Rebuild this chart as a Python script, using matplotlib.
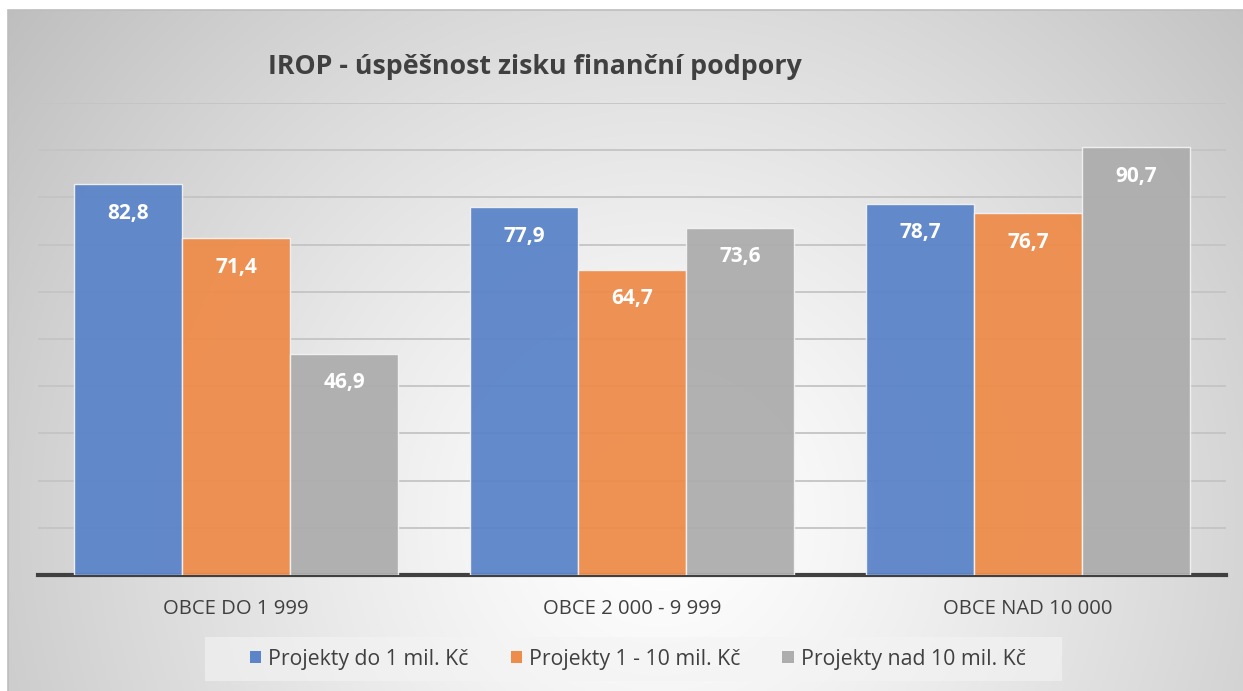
import numpy as np
import matplotlib
matplotlib.use("Agg")
import matplotlib.pyplot as plt
from matplotlib.patches import Patch, Rectangle

categories = ["OBCE DO 1 999", "OBCE 2 000 - 9 999", "OBCE NAD 10 000"]
series_names = ["Projekty do 1 mil. Kč", "Projekty 1 - 10 mil. Kč", "Projekty nad 10 mil. Kč"]
small = [82.8, 77.9, 78.7]
medium = [71.4, 64.7, 76.7]
large = [46.9, 73.6, 90.7]
title = "IROP - úspěšnost zisku finanční podpory"

colors = ["#5B84C9", "#EE8C4B", "#ADADAD"]
FONT = ["Open Sans", "DejaVu Sans"]
plt.rcParams['font.family'] = FONT

W, H = 1243, 691
fig = plt.figure(figsize=(W / 100, H / 100), dpi=100)
fig.patch.set_facecolor("white")

# background gradient panel
x0, ytop = 8, 10
bg = fig.add_axes([x0 / W, 0, 1 - x0 / W, 1 - ytop / H], zorder=0)
yy, xx = np.mgrid[ytop:H, x0:W]
cx, cy = 660, 520
d = np.sqrt((xx - cx) ** 2 + (yy - cy) ** 2) / 800.0
v = 255 - 62 * np.clip(d, 0, 1.2) ** 1.25
img = np.clip(v, 0, 255) / 255.0
bg.imshow(np.dstack([img, img, img]), aspect="auto", extent=[0, 1, 0, 1], interpolation="bilinear")
bg.set_axis_off()
fig.add_artist(Rectangle((x0 / W, -0.01), 1.0, 1 - ytop / H + 0.01, transform=fig.transFigure,
                         fill=False, edgecolor="#BDBDBD", lw=1.2, zorder=1))

# main axes
left, right = 38 / W, 1226 / W
bottom, top = (H - 575) / H, (H - 103) / H
ax = fig.add_axes([left, bottom, right - left, top - bottom], zorder=2)
ax.patch.set_alpha(0)
ax.set_xlim(-0.5, len(categories) - 0.5)
ax.set_ylim(0, 100)
for s in ["top", "right", "left"]:
    ax.spines[s].set_visible(False)
ax.spines["bottom"].set_color("#404040")
ax.spines["bottom"].set_linewidth(3)
ax.set_yticks(np.arange(10, 101, 10))
ax.set_yticklabels([])
ax.tick_params(axis="y", length=0)
ax.tick_params(axis="x", length=0, pad=17)
ax.yaxis.grid(True, color="#C4C4C4", lw=1.3)
ax.set_axisbelow(True)

x = np.arange(len(categories))
bw = 108 / 396
for i, (vals, c) in enumerate(zip([small, medium, large], colors)):
    pos = x + (i - 1) * bw
    ax.bar(pos, vals, width=bw, color=c, alpha=0.95, edgecolor="#F2F2F2", linewidth=1.0,
           label=series_names[i], zorder=3)
    for xp, val in zip(pos, vals):
        ax.annotate(f"{val:.1f}".replace(".", ","), (xp, val), xytext=(0, -21),
                    textcoords="offset points", ha="center", va="center",
                    color="white", fontsize=15, fontweight="bold", zorder=4)

ax.set_xticks(x)
ax.set_xticklabels(categories, fontsize=14.6, color="#404040")

fig.text(535 / W, 1 - 67 / H, title, ha="center", va="center", fontsize=19.3,
         fontweight="bold", color="#404040", zorder=5)

# legend box
fig.add_artist(Rectangle((205 / W, 1 - 681 / H), (1062 - 205) / W, 44 / H, transform=fig.transFigure,
                         facecolor="#F4F4F4", alpha=0.6, edgecolor="none", zorder=4))
handles = [Patch(facecolor=c, edgecolor="none") for c in colors]
leg = fig.legend(handles, series_names, loc="center", bbox_to_anchor=(637.5 / W, 1 - 659 / H),
                 ncol=3, frameon=False, fontsize=15.3, handlelength=0.55, handleheight=0.55,
                 handletextpad=0.3, columnspacing=2.0, borderpad=0.2)
for t in leg.get_texts():
    t.set_color("#404040")
leg.set_zorder(5)

fig.savefig("out.png", dpi=100, facecolor=fig.get_facecolor())
